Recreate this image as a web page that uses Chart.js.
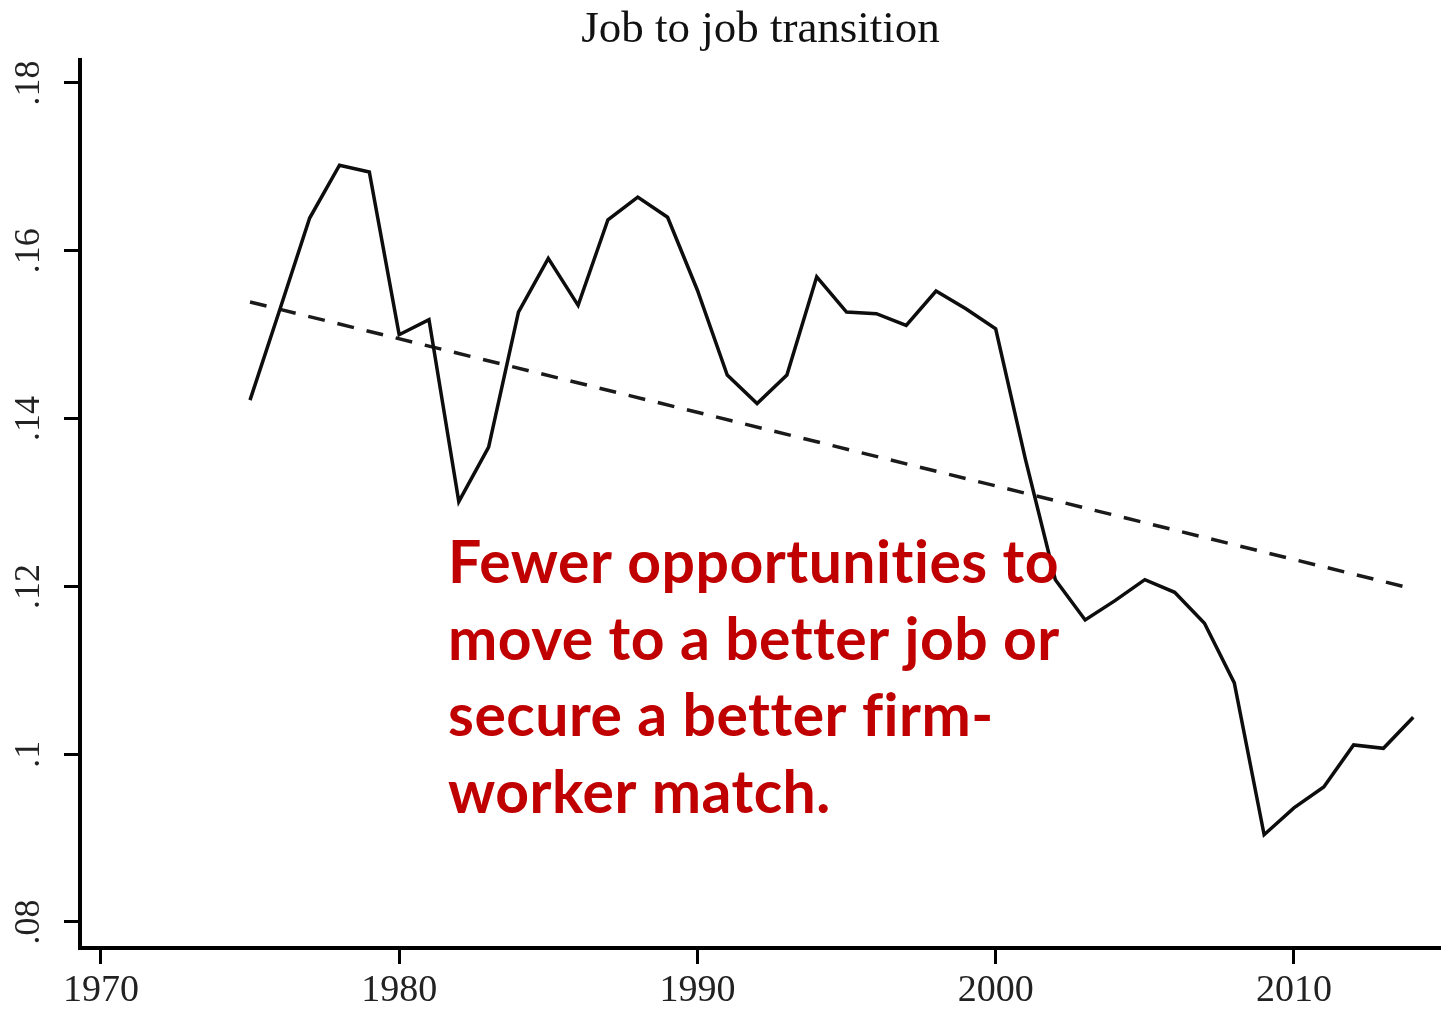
<!DOCTYPE html>
<html>
<head>
<meta charset="utf-8">
<title>Job to job transition</title>
<script src="https://cdn.jsdelivr.net/npm/chart.js@4.4.0/dist/chart.umd.min.js"></script>
<style>
  html, body { margin: 0; padding: 0; background: #ffffff; }
  #chartWrap { position: relative; width: 1441px; height: 1011px; }
</style>
</head>
<body>
<div id="chartWrap">
  <canvas id="jtjChart" width="1441" height="1011"></canvas>
</div>
<script>
// Yearly job-to-job transition rate
const years = [1975, 1976, 1977, 1978, 1979, 1980, 1981, 1982, 1983, 1984,
  1985, 1986, 1987, 1988, 1989, 1990, 1991, 1992, 1993, 1994,
  1995, 1996, 1997, 1998, 1999, 2000, 2001, 2002, 2003, 2004,
  2005, 2006, 2007, 2008, 2009, 2010, 2011, 2012, 2013, 2014];
const transitionRate = [0.1422, 0.1530, 0.1639, 0.1702, 0.1694, 0.1500, 0.1518, 0.1301, 0.1366, 0.1527,
  0.1591, 0.1535, 0.1637, 0.1664, 0.1640, 0.1553, 0.1452, 0.1418, 0.1452, 0.1569,
  0.1527, 0.1525, 0.1511, 0.1552, 0.1531, 0.1507, 0.1351, 0.1208, 0.1160, 0.1183,
  0.1208, 0.1193, 0.1156, 0.1085, 0.0904, 0.0936, 0.0961, 0.1011, 0.1007, 0.1044];

// Linear trend (end points of the fitted line)
const trendYears = [1975, 2014];
const trendRate = [0.1539, 0.1197];

// Axis ticks
const xTicks = [1970, 1980, 1990, 2000, 2010];
const yTicks = [0.08, 0.10, 0.12, 0.14, 0.16, 0.18];
const yTickLabels = [".08", ".1", ".12", ".14", ".16", ".18"];

const noteLines = [
  "Fewer opportunities to",
  "move to a better job or",
  "secure a better firm-",
  "worker match."
];

const serif = "'Liberation Serif', 'DejaVu Serif', serif";

// Red note drawn over the plot
const notePlugin = {
  id: "note",
  afterDraw(chart) {
    const ctx = chart.ctx;
    ctx.save();
    ctx.fillStyle = "#c00000";
    ctx.textAlign = "left";
    ctx.textBaseline = "alphabetic";
    // a little letter spacing keeps "ti" / "fi" from turning into ligatures
    ctx.letterSpacing = "0.5px";
    // size the font so the widest line spans about 612px
    ctx.font = "bold 60px Lato";
    const widest = Math.max(...noteLines.map(l => ctx.measureText(l).width));
    const size = 60 * 612 / widest;
    ctx.font = "bold " + size.toFixed(1) + "px Lato";
    noteLines.forEach((line, i) => {
      ctx.fillText(line, 448, 583 + i * 76.5);
    });
    ctx.restore();
  }
};

const canvas = document.getElementById("jtjChart");

const jtjChart = new Chart(canvas, {
  type: "line",
  data: {
    datasets: [
      {
        label: "Job to job transition",
        data: years.map((yr, i) => ({ x: yr, y: transitionRate[i] })),
        borderColor: "#0d0d0d",
        borderWidth: 3.5,
        pointRadius: 0,
        tension: 0,
        fill: false
      },
      {
        label: "Trend",
        data: trendYears.map((yr, i) => ({ x: yr, y: trendRate[i] })),
        borderColor: "#1a1a1a",
        borderWidth: 3.5,
        borderDash: [17, 13],
        pointRadius: 0,
        tension: 0,
        fill: false
      }
    ]
  },
  options: {
    responsive: false,
    animation: false,
    layout: { padding: 0 },
    plugins: {
      legend: { display: false },
      tooltip: { enabled: false },
      title: {
        display: true,
        text: "Job to job transition",
        fullSize: false,
        color: "#111111",
        font: { family: serif, size: 45, weight: "normal" },
        padding: { top: 3, bottom: 3 }
      }
    },
    scales: {
      x: {
        type: "linear",
        min: 1969.3,
        max: 2014.93,
        afterBuildTicks: scale => { scale.ticks = xTicks.map(v => ({ value: v })); },
        afterFit: scale => { scale.height = 63; },
        border: { display: true, color: "#000000", width: 4 },
        grid: { drawOnChartArea: false, drawTicks: true, tickLength: 16, lineWidth: 3, color: "#000000" },
        ticks: {
          color: "#222222",
          font: { family: serif, size: 38 },
          padding: 4,
          autoSkip: false,
          maxRotation: 0,
          callback: value => String(value)
        }
      },
      y: {
        type: "linear",
        min: 0.0769,
        max: 0.18274,
        afterBuildTicks: scale => { scale.ticks = yTicks.map(v => ({ value: v })); },
        afterFit: scale => { scale.width = 80; },
        border: { display: true, color: "#000000", width: 4 },
        grid: { drawOnChartArea: false, drawTicks: true, tickLength: 16, lineWidth: 3, color: "#000000" },
        ticks: {
          color: "#222222",
          font: { family: serif, size: 36 },
          padding: 12,
          autoSkip: false,
          minRotation: 90,
          maxRotation: 90,
          crossAlign: "center",
          callback: value => {
            const idx = yTicks.findIndex(t => Math.abs(t - value) < 1e-9);
            return idx >= 0 ? yTickLabels[idx] : "";
          }
        }
      }
    }
  },
  plugins: [notePlugin]
});
</script>
</body>
</html>
